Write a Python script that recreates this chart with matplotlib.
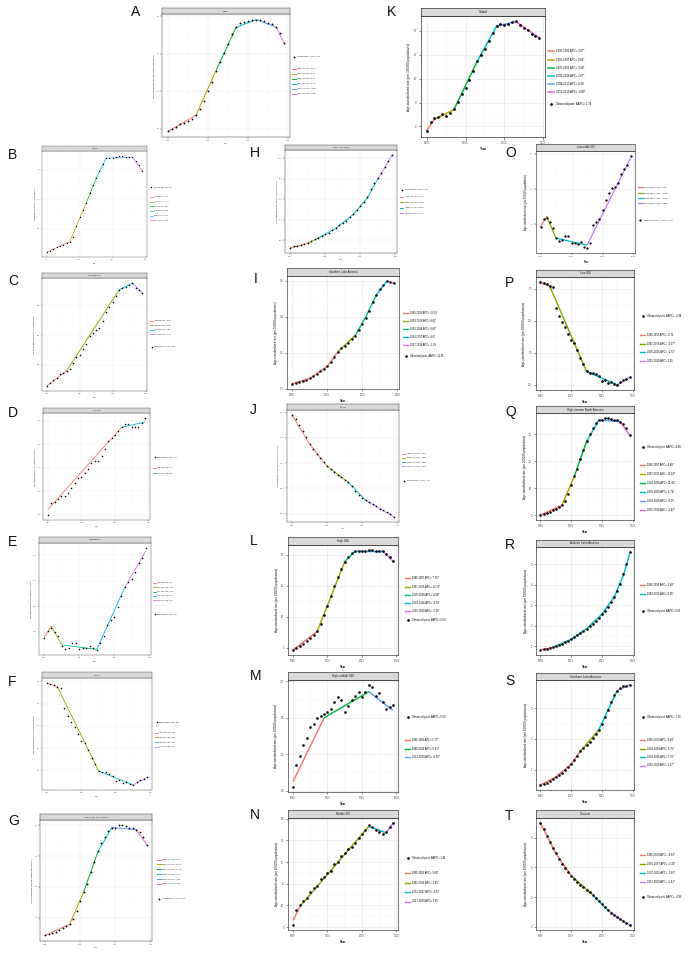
import matplotlib
matplotlib.use("Agg")
import matplotlib.pyplot as plt
from matplotlib.lines import Line2D

plt.rcParams['font.family'] = ['Liberation Sans', 'DejaVu Sans']

W, H, DPI = 700, 957, 100
fig = plt.figure(figsize=(W / DPI, H / DPI), dpi=DPI)

YEARS = list(range(1990, 2020))
XTICKS = [1990, 2000, 2010, 2020]
XMINOR = [1995, 2005, 2015]
YLABEL = "Age-standardized rate (per 100000 populations)"

PALETTES = {
    2: ["#F8766D", "#00BFC4"],
    3: ["#F8766D", "#00BA38", "#619CFF"],
    4: ["#F8766D", "#7CAE00", "#00BFC4", "#C77CFF"],
    5: ["#F8766D", "#A3A500", "#00BF7D", "#00B0F6", "#E76BF3"],
    6: ["#F8766D", "#B79F00", "#00BA38", "#00BFC4", "#619CFF", "#F564E3"],
}

# ---------------- data ----------------
A_TITLE = "Global"
A_OBS = [0.193, 0.199, 0.206, 0.212, 0.216, 0.221, 0.227, 0.236, 0.253, 0.275, 0.300, 0.326, 0.353, 0.379, 0.401,
         0.426, 0.452, 0.470, 0.483, 0.485, 0.486, 0.489, 0.491, 0.490, 0.486, 0.482, 0.479, 0.471, 0.454, 0.428]
A_FIT_YEARS = [1990, 1997, 2002, 2007, 2012, 2017, 2019]
A_FIT = [0.193, 0.236, 0.355, 0.470, 0.491, 0.471, 0.428]
A_JP = [1990, 1997, 2002, 2007, 2012, 2017, 2019]
A_LABELS = ["1990-1997 APC= 2.87*", "1997-2002 APC= 8.37*", "2002-2007 APC= 5.87*",
            "2007-2012 APC= 0.75*", "2012-2017 APC= -0.86*", "2017-2019 APC= -4.28*"]
A_AAPC = "Observed point, AAPC= 2.79"
A_YTICKS = [0.2, 0.3, 0.4, 0.5]
A_YTICKLABELS = ["0.2", "0.3", "0.4", "0.5"]

B_TITLE = "High SDI"
B_OBS = [0.30, 0.31, 0.325, 0.34, 0.35, 0.36, 0.375, 0.39, 0.43, 0.52, 0.60, 0.66, 0.72, 0.80, 0.87,
         0.93, 0.99, 1.05, 1.10, 1.10, 1.10, 1.11, 1.12, 1.12, 1.11, 1.11, 1.11, 1.08, 1.04, 0.99]
B_FIT_YEARS = [1990, 1997, 2002, 2005, 2008, 2016, 2019]
B_FIT = [0.30, 0.39, 0.72, 0.93, 1.10, 1.11, 0.99]
B_JP = [1990, 1997, 2002, 2005, 2008, 2016, 2019]
B_LABELS = ["1990-1997 APC= 4.17*", "1997-2002 APC= 12.71*", "2002-2005 APC= 8.89*",
            "2005-2008 APC= 5.85*", "2008-2016 APC= 0.09", "2016-2019 APC= -3.88*"]
B_AAPC = "Observed point, AAPC= 4.19"
B_YTICKS = [0.50, 0.75, 1.00]
B_YTICKLABELS = ["0.50", "0.75", "1.00"]

C_TITLE = "High-middle SDI"
C_OBS = [0.165, 0.169, 0.174, 0.178, 0.185, 0.186, 0.190, 0.193, 0.203, 0.213, 0.216, 0.226, 0.235, 0.249, 0.253,
         0.258, 0.262, 0.274, 0.289, 0.297, 0.305, 0.315, 0.326, 0.329, 0.330, 0.334, 0.337, 0.329, 0.325, 0.321]
C_FIT_YEARS = [1990, 1996, 2012, 2016, 2019]
C_FIT = [0.165, 0.190, 0.326, 0.337, 0.321]
C_JP = [1990, 1996, 2012, 2016, 2019]
C_LABELS = ["1990-1996 APC= 2.19*", "1996-2012 APC= 3.50*", "2012-2016 APC= 0.86", "2016-2019 APC= -1.77*"]
C_AAPC = "Observed point, AAPC= 2.34"
C_YTICKS = [0.20, 0.25, 0.30]
C_YTICKLABELS = ["0.20", "0.25", "0.30"]

D_TITLE = "Middle SDI"
D_OBS = [0.099, 0.124, 0.127, 0.134, 0.140, 0.140, 0.147, 0.157, 0.168, 0.179, 0.181, 0.188, 0.198, 0.210, 0.215,
         0.215, 0.225, 0.240, 0.256, 0.264, 0.270, 0.277, 0.286, 0.292, 0.292, 0.286, 0.286, 0.286, 0.296, 0.306]
D_FIT_YEARS = [1990, 2012, 2019]
D_FIT = [0.111, 0.286, 0.297]
D_JP = [1990, 2012, 2019]
D_LABELS = ["1990-2012 APC= 4.37*", "2012-2019 APC= 0.59"]
D_AAPC = "Observed point, AAPC= 3.46"
D_YTICKS = [0.10, 0.15, 0.20, 0.25, 0.30]
D_YTICKLABELS = ["0.10", "0.15", "0.20", "0.25", "0.30"]

E_TITLE = "Low-middle SDI"
E_OBS = [0.0588, 0.0602, 0.0608, 0.0600, 0.0591, 0.0572, 0.0566, 0.0568, 0.0578, 0.0578, 0.0566, 0.0567, 0.0568,
         0.0572, 0.0567, 0.0564, 0.0577, 0.0591, 0.0613, 0.0623, 0.0628, 0.0649, 0.0669, 0.0687, 0.0697, 0.0703,
         0.0717, 0.0735, 0.0745, 0.0764]
E_FIT_YEARS = [1990, 1992, 1995, 2005, 2013, 2019]
E_FIT = [0.0588, 0.0611, 0.0574, 0.0565, 0.0687, 0.0759]
E_JP = [1990, 1992, 1995, 2005, 2013, 2019]
E_LABELS = ["1990-1992 APC= 1.92", "1992-1995 APC= -2.10", "1995-2005 APC= -0.16",
            "2005-2013 APC= 2.49*", "2013-2019 APC= 1.67*"]
E_AAPC = "Observed point, AAPC= 0.90"
E_YTICKS = [0.060, 0.065, 0.070, 0.075]
E_YTICKLABELS = ["0.060", "0.065", "0.070", "0.075"]

F_TITLE = "Low SDI"
F_OBS = [0.296, 0.294, 0.292, 0.288, 0.285, 0.239, 0.222, 0.208, 0.197, 0.181, 0.166, 0.161, 0.146, 0.128, 0.113,
         0.098, 0.095, 0.095, 0.092, 0.086, 0.075, 0.079, 0.071, 0.073, 0.070, 0.067, 0.073, 0.079, 0.081, 0.085]
F_FIT_YEARS = [1990, 1993, 2005, 2015, 2019]
F_FIT = [0.296, 0.288, 0.098, 0.067, 0.084]
F_JP = [1990, 1993, 2005, 2015, 2019]
F_LABELS = ["1990-1993 APC= -0.88", "1993-2005 APC= -8.87*", "2005-2015 APC= -3.77*", "2015-2019 APC= 5.92"]
F_AAPC = "Observed point, AAPC= -4.99"
F_YTICKS = [0.10, 0.15, 0.20, 0.25, 0.30]
F_YTICKLABELS = ["0.10", "0.15", "0.20", "0.25", "0.30"]

G_TITLE = "High-income North America"
G_OBS = [0.426, 0.436, 0.448, 0.464, 0.480, 0.499, 0.515, 0.537, 0.584, 0.663, 0.758, 0.853, 0.932, 1.042, 1.143,
         1.247, 1.326, 1.389, 1.446, 1.478, 1.472, 1.500, 1.500, 1.491, 1.478, 1.472, 1.459, 1.437, 1.389, 1.311]
G_FIT_YEARS = [1990, 1997, 2001, 2005, 2009, 2016, 2019]
G_FIT = [0.426, 0.537, 0.853, 1.240, 1.480, 1.460, 1.311]
G_JP = [1990, 1997, 2001, 2005, 2009, 2016, 2019]
G_LABELS = ["1990-1997 APC= 3.40*", "1997-2001 APC= 12.53*", "2001-2005 APC= 10.18*",
            "2005-2009 APC= 4.37*", "2009-2016 APC= -0.23", "2016-2019 APC= -3.57*"]
G_AAPC = "Observed point, AAPC= 3.93"
G_YTICKS = [0.6, 0.9, 1.2, 1.5]
G_YTICKLABELS = ["0.6", "0.9", "1.2", "1.5"]

H_TITLE = "Andean Latin America"
H_OBS = [0.030, 0.035, 0.036, 0.038, 0.040, 0.043, 0.047, 0.052, 0.055, 0.060, 0.064, 0.068, 0.074, 0.080, 0.086,
         0.092, 0.098, 0.106, 0.115, 0.123, 0.133, 0.144, 0.156, 0.174, 0.190, 0.202, 0.215, 0.229, 0.243, 0.259]
H_FIT_YEARS = [1990, 1995, 1998, 2003, 2008, 2012, 2015, 2017, 2019]
H_FIT = [0.031, 0.042, 0.055, 0.079, 0.113, 0.153, 0.200, 0.228, 0.258]
H_JP = [1990, 1995, 1998, 2015, 2019]
H_LABELS = ["1990-1995 APC= 6.77*", "1995-1998 APC= 11.37*", "1998-2015 APC= 8.08*", "2015-2019 APC= 6.40*"]
H_AAPC = "Observed point, AAPC= 7.52"
H_YTICKS = [0.05, 0.10, 0.15, 0.20, 0.25]
H_YTICKLABELS = ["0.05", "0.10", "0.15", "0.20", "0.25"]

I_TITLE = "Southern Latin America"
I_OBS = [0.028, 0.033, 0.038, 0.044, 0.052, 0.060, 0.072, 0.085, 0.098, 0.112, 0.127, 0.148, 0.178, 0.205, 0.225,
         0.240, 0.257, 0.275, 0.296, 0.325, 0.360, 0.395, 0.435, 0.480, 0.522, 0.552, 0.578, 0.598, 0.594, 0.585]
I_FIT_YEARS = [1990, 1995, 2000, 2003, 2008, 2011, 2014, 2017, 2019]
I_FIT = [0.028, 0.058, 0.125, 0.205, 0.298, 0.400, 0.522, 0.598, 0.586]
I_JP = [1990, 2003, 2008, 2014, 2017, 2019]
I_LABELS = ["1990-2003 APC= 16.54*", "2003-2008 APC= 8.01*", "2008-2014 APC= 9.85*",
            "2014-2017 APC= 4.47", "2017-2019 APC= -1.09"]
I_AAPC = "Observed point, AAPC= 11.36"
I_YTICKS = [0.0, 0.2, 0.4, 0.6]
I_YTICKLABELS = ["0.0", "0.2", "0.4", "0.6"]

J_TITLE = "Oceania"
J_OBS = [0.1477, 0.1434, 0.1379, 0.1320, 0.1261, 0.1189, 0.1139, 0.1090, 0.1048, 0.1008, 0.0969, 0.0943, 0.0910,
         0.0884, 0.0861, 0.0834, 0.0811, 0.0769, 0.0723, 0.0687, 0.0654, 0.0631, 0.0611, 0.0592, 0.0572, 0.0549,
         0.0533, 0.0513, 0.0493, 0.0467]
J_FIT_YEARS = [1990, 1995, 2000, 2006, 2011, 2015, 2019]
J_FIT = [0.1477, 0.1189, 0.0969, 0.0811, 0.0631, 0.0549, 0.0467]
J_JP = [1990, 2000, 2006, 2011, 2019]
J_LABELS = ["1990-2000 APC= -4.17*", "2000-2006 APC= -2.66*", "2006-2011 APC= -4.88*", "2011-2019 APC= -3.47*"]
J_AAPC = "Observed point, AAPC= -3.94"
J_YTICKS = [0.050, 0.075, 0.100, 0.125, 0.150]
J_YTICKLABELS = ["0.050", "0.075", "0.100", "0.125", "0.150"]

K_TITLE = "Global"
K_OBS = [7.79, 8.17, 8.34, 8.41, 8.51, 8.44, 8.55, 8.72, 9.03, 9.34, 9.59, 9.93, 10.34, 10.73, 10.97,
         11.24, 11.59, 11.90, 12.21, 12.28, 12.23, 12.28, 12.37, 12.39, 12.25, 12.11, 12.04, 11.86, 11.79, 11.68]
K_FIT_YEARS = [1990, 1992, 1997, 2003, 2008, 2013, 2019]
K_FIT = [7.82, 8.30, 8.70, 10.72, 12.20, 12.38, 11.70]
K_JP = [1990, 1992, 1997, 2003, 2008, 2013, 2019]
K_LABELS = ["1990-1992 APC= 3.07*", "1992-1997 APC= 0.64*", "1997-2003 APC= 3.58*",
            "2003-2008 APC= 2.67*", "2008-2013 APC= 0.28", "2013-2019 APC= -0.83*"]
K_AAPC = "Observed point, AAPC= 1.39"
K_YTICKS = [8, 9, 10, 11, 12]
K_YTICKLABELS = ["8", "9", "10", "11", "12"]

L_TITLE = "High SDI"
L_OBS = [4.6, 4.9, 5.2, 5.6, 6.0, 6.5, 7.0, 7.6, 8.8, 10.2, 11.8, 13.4, 15.0, 16.5, 17.8,
         18.9, 19.7, 20.3, 20.6, 20.6, 20.6, 20.7, 20.8, 20.8, 20.7, 20.7, 20.6, 20.2, 19.6, 19.0]
L_FIT_YEARS = [1990, 1997, 2005, 2008, 2016, 2019]
L_FIT = [4.6, 7.6, 18.9, 20.6, 20.6, 19.0]
L_JP = [1990, 1997, 2005, 2008, 2016, 2019]
L_LABELS = ["1990-1997 APC= 7.70*", "1997-2005 APC= 12.13*", "2005-2008 APC= 4.58*",
            "2008-2016 APC= -0.09", "2016-2019 APC= -2.56*"]
L_AAPC = "Observed point, AAPC= 5.04"
L_YTICKS = [5, 10, 15, 20]
L_YTICKLABELS = ["5", "10", "15", "20"]

M_TITLE = "High-middle SDI"
M_OBS = [5.55, 5.85, 5.97, 6.12, 6.22, 6.38, 6.42, 6.50, 6.52, 6.55, 6.58, 6.62, 6.72, 6.78, 6.75,
         6.58, 6.66, 6.75, 6.80, 6.86, 6.78, 6.85, 6.95, 6.93, 6.80, 6.84, 6.72, 6.62, 6.65, 6.68]
M_FIT_YEARS = [1990, 1999, 2012, 2019]
M_FIT = [5.62, 6.50, 6.86, 6.60]
M_JP = [1990, 1999, 2012, 2019]
M_LABELS = ["1990-1999 APC= 1.77*", "1999-2012 APC= 0.41*", "2012-2019 APC= -0.63*"]
M_AAPC = "Observed point, AAPC= 0.59"
M_YTICKS = [5.5, 6.0, 6.5, 7.0]
M_YTICKLABELS = ["5.5", "6.0", "6.5", "7.0"]

N_TITLE = "Middle SDI"
N_OBS = [9.1, 9.8, 10.0, 10.2, 10.35, 10.6, 10.8, 10.9, 11.2, 11.3, 11.5, 11.6, 11.9, 12.0, 12.3,
         12.4, 12.6, 12.7, 12.9, 13.1, 13.3, 13.5, 13.7, 13.6, 13.5, 13.4, 13.3, 13.4, 13.6, 13.8]
N_FIT_YEARS = [1990, 1992, 2012, 2017, 2019]
N_FIT = [9.3, 9.95, 13.65, 13.35, 13.8]
N_JP = [1990, 1992, 2012, 2017, 2019]
N_LABELS = ["1990-1992 APC= 3.66*", "1992-2012 APC= 1.69*", "2012-2017 APC= -0.57", "2017-2019 APC= 1.63"]
N_AAPC = "Observed point, AAPC= 1.41"
N_YTICKS = [9, 10, 11, 12, 13, 14]
N_YTICKLABELS = ["9", "10", "11", "12", "13", "14"]

O_TITLE = "Low-middle SDI"
O_OBS = [7.93, 8.14, 8.18, 8.06, 7.91, 7.61, 7.52, 7.56, 7.68, 7.68, 7.47, 7.47, 7.45, 7.50, 7.36,
         7.32, 7.48, 7.98, 8.06, 8.14, 8.41, 8.68, 8.89, 9.02, 9.05, 9.18, 9.43, 9.57, 9.68, 9.95]
O_FIT_YEARS = [1990, 1992, 1995, 2005, 2019]
O_FIT = [7.93, 8.23, 7.61, 7.41, 9.88]
O_JP = [1990, 1992, 1995, 2005, 2019]
O_LABELS = ["1990-1992 APC= 1.75", "1992-1995 APC= -2.60", "1995-2005 APC= -0.41*", "2005-2019 APC= 2.06*"]
O_AAPC = "Observed point, AAPC= 0.75"
O_YTICKS = [8, 9, 10]
O_YTICKLABELS = ["8", "9", "10"]

P_TITLE = "Low SDI"
P_OBS = [3.600, 3.584, 3.568, 3.542, 3.520, 3.201, 3.079, 2.983, 2.909, 2.797, 2.691, 2.654, 2.547, 2.425, 2.319,
         2.213, 2.191, 2.191, 2.175, 2.133, 2.053, 2.080, 2.027, 2.042, 2.016, 2.000, 2.042, 2.080, 2.096, 2.122]
P_FIT_YEARS = [1990, 1993, 2005, 2015, 2019]
P_FIT = [3.60, 3.54, 2.21, 2.00, 2.12]
P_JP = [1990, 1993, 2005, 2015, 2019]
P_LABELS = ["1990-1993 APC= -0.71", "1993-2005 APC= -3.07*", "2005-2015 APC= -1.71*", "2015-2019 APC= 1.31"]
P_AAPC = "Observed point, AAPC= -1.98"
P_YTICKS = [2.0, 2.5, 3.0, 3.5]
P_YTICKLABELS = ["2.0", "2.5", "3.0", "3.5"]

Q_TITLE = "High-income North America"
Q_OBS = [5.00, 5.16, 5.37, 5.64, 5.90, 6.22, 6.48, 6.85, 7.65, 8.97, 10.56, 12.15, 13.47, 15.32, 17.02,
         18.76, 20.09, 21.15, 22.10, 22.63, 22.52, 23.00, 23.00, 22.84, 22.63, 22.52, 22.31, 21.94, 21.15, 19.82]
Q_FIT_YEARS = [1990, 1997, 2001, 2005, 2009, 2016, 2019]
Q_FIT = [5.00, 6.85, 12.15, 18.6, 22.6, 22.3, 19.82]
Q_JP = [1990, 1997, 2001, 2005, 2009, 2016, 2019]
Q_LABELS = ["1990-1997 APC= 4.80*", "1997-2001 APC= 15.53*", "2001-2005 APC= 11.44*",
            "2005-2009 APC= 4.74*", "2009-2016 APC= -0.07", "2016-2019 APC= -3.83*"]
Q_AAPC = "Observed point, AAPC= 4.88"
Q_YTICKS = [5, 10, 15, 20]
Q_YTICKLABELS = ["5", "10", "15", "20"]

R_TITLE = "Andean Latin America"
R_OBS = [0.80, 0.84, 0.87, 0.90, 0.93, 0.98, 1.04, 1.11, 1.18, 1.26, 1.34, 1.43, 1.52, 1.62, 1.73,
         1.84, 1.96, 2.09, 2.23, 2.38, 2.55, 2.73, 2.93, 3.15, 3.40, 3.70, 4.05, 4.50, 5.00, 5.60]
R_FIT_YEARS = [1990, 1994, 2000, 2005, 2010, 2014, 2017, 2019]
R_FIT = [0.80, 0.93, 1.33, 1.84, 2.55, 3.40, 4.45, 5.50]
R_JP = [1990, 1994, 2019]
R_LABELS = ["1990-1994 APC= 3.48*", "1994-2019 APC= 6.95*"]
R_AAPC = "Observed point, AAPC= 6.61"
R_YTICKS = [1, 2, 3, 4, 5]
R_YTICKLABELS = ["1", "2", "3", "4", "5"]

S_TITLE = "Southern Latin America"
S_OBS = [0.50, 0.54, 0.58, 0.63, 0.69, 0.75, 0.82, 0.90, 0.99, 1.08, 1.18, 1.30, 1.45, 1.62, 1.72,
         1.80, 1.90, 2.02, 2.15, 2.30, 2.50, 2.72, 2.96, 3.20, 3.42, 3.58, 3.66, 3.72, 3.74, 3.76]
S_FIT_YEARS = [1990, 1995, 2000, 2003, 2009, 2012, 2015, 2019]
S_FIT = [0.50, 0.76, 1.18, 1.60, 2.30, 2.95, 3.58, 3.76]
S_JP = [1990, 2003, 2009, 2015, 2019]
S_LABELS = ["1990-2003 APC= 9.49*", "2003-2009 APC= 5.75*", "2009-2015 APC= 7.70*", "2015-2019 APC= 1.27*"]
S_AAPC = "Observed point, AAPC= 7.13"
S_YTICKS = [1, 2, 3]
S_YTICKLABELS = ["1", "2", "3"]

T_TITLE = "Oceania"
T_OBS = [9.0, 8.6, 8.15, 7.75, 7.35, 6.95, 6.6, 6.25, 5.95, 5.7, 5.45, 5.25, 5.05, 4.85, 4.7,
         4.5, 4.35, 4.15, 3.95, 3.72, 3.5, 3.3, 3.1, 2.95, 2.8, 2.65, 2.5, 2.38, 2.25, 2.12]
T_FIT_YEARS = [1990, 1995, 2000, 2007, 2012, 2016, 2019]
T_FIT = [9.0, 6.95, 5.45, 4.15, 3.1, 2.5, 2.12]
T_JP = [1990, 2000, 2007, 2012, 2019]
T_LABELS = ["1990-2000 APC= -4.82*", "2000-2007 APC= -3.33*", "2007-2012 APC= -5.69*", "2012-2019 APC= -5.41*"]
T_AAPC = "Observed point, AAPC= -4.96"
T_YTICKS = [2, 4, 6, 8]
T_YTICKLABELS = ["2", "4", "6", "8"]

# ---------------- layout (pixels) ----------------
LAYOUT = {
    "A": dict(box=(162, 8, 14, 290, 137), letter=(131, 12), leg=(292, 57, 69, 5.6), s=1.3),
    "B": dict(box=(42, 146, 151, 147, 257), letter=(8, 155), leg=(150, 187, 197, 4.6), s=0.95),
    "C": dict(box=(42, 273, 278, 147, 391), letter=(8, 281), leg=(150, 347, 321, 5.0), s=1.15),
    "D": dict(box=(43, 408, 413, 150, 520), letter=(8, 413), leg=(153, 457, 468, 6.0), s=1.1),
    "E": dict(box=(39, 537, 543, 151, 655), letter=(8, 542), leg=(153, 614, 583, 4.75), s=1.1),
    "F": dict(box=(42, 672, 678, 152, 790), letter=(8, 682), leg=(155, 722, 733, 5.0), s=1.1),
    "G": dict(box=(40, 814, 820, 152, 941), letter=(8, 821), leg=(157, 899, 860, 5.4), s=1.3),
    "H": dict(box=(285, 145, 150, 397, 253), letter=(250, 153), leg=(400, 190, 197, 6.0), s=1.25),
    "I": dict(box=(287, 268, 276, 399, 389), letter=(254, 279), leg=(403, 355, 312, 6.5), s=1.8),
    "J": dict(box=(287, 404, 410, 399, 522), letter=(250, 410), leg=(402, 481, 454, 4.7), s=1.25),
    "K": dict(box=(421, 8, 16, 545, 137), letter=(387, 12), leg=(548, 104, 51, 7.0), s=2.0),
    "L": dict(box=(288, 537, 545, 398, 655), letter=(250, 541), leg=(405, 620, 578, 6.8), s=1.9),
    "M": dict(box=(288, 672, 680, 398, 792), letter=(250, 676), leg=(405, 717, 740, 7.0), s=1.9),
    "N": dict(box=(288, 810, 818, 398, 930), letter=(250, 815), leg=(405, 858, 873, 8.0), s=1.9),
    "O": dict(box=(536, 144, 151, 635, 253), letter=(505, 153), leg=(638, 221, 188, 6.0), s=1.65),
    "P": dict(box=(536, 270, 277, 634, 390), letter=(505, 283), leg=(640, 316, 335, 7.0), s=1.9),
    "Q": dict(box=(536, 406, 413, 634, 520), letter=(505, 412), leg=(640, 447, 465, 7.5), s=1.9),
    "R": dict(box=(536, 540, 547, 634, 655), letter=(505, 545), leg=(640, 611, 585, 7.0), s=1.9),
    "S": dict(box=(536, 673, 680, 634, 790), letter=(505, 681), leg=(640, 717, 740, 7.0), s=1.9),
    "T": dict(box=(536, 810, 818, 634, 930), letter=(505, 816), leg=(640, 897, 855, 7.5), s=1.9),
}

G_ = globals()


def draw(key):
    title = G_[key + "_TITLE"]
    obs = G_[key + "_OBS"]
    fy = G_[key + "_FIT_YEARS"]
    fv = G_[key + "_FIT"]
    jp = G_[key + "_JP"]
    labels = G_[key + "_LABELS"]
    aapc = G_[key + "_AAPC"]
    yt = G_[key + "_YTICKS"]
    ytl = G_[key + "_YTICKLABELS"]
    lay = LAYOUT[key]
    l, st, sb, r, b = lay["box"]
    s = lay["s"]
    fs_px = s * DPI / 72.0
    big = s > 1.6

    ax = fig.add_axes([l / W, 1 - b / H, (r - l) / W, (b - sb) / H])
    sax = fig.add_axes([l / W, 1 - sb / H, (r - l) / W, (sb - st) / H])

    pal = PALETTES[len(jp) - 1]
    for i in range(len(jp) - 1):
        xs = [y for y in fy if jp[i] <= y <= jp[i + 1]]
        vs = [v for y, v in zip(fy, fv) if jp[i] <= y <= jp[i + 1]]
        ax.plot(xs, vs, color=pal[i], lw=0.55 * s, solid_capstyle="butt", zorder=2)
    ax.plot(YEARS, obs, "o", color="black", ms=1.0 * s, mew=0, zorder=3)

    ax.margins(x=0.05, y=0.05)
    lim = ax.get_ylim()
    ax.set_xticks(XTICKS)
    ax.set_xticks(XMINOR, minor=True)
    ax.set_xticklabels([str(x) for x in XTICKS])
    ax.set_yticks(yt)
    ax.set_yticklabels(ytl)
    ymin = [(yt[i] + yt[i + 1]) / 2 for i in range(len(yt) - 1)]
    ax.set_yticks(ymin, minor=True)
    ax.set_ylim(lim)
    ax.set_xlim(1988.55, 2020.45)

    ax.grid(which="major", color="#EBEBEB", lw=0.25 * s)
    ax.grid(which="minor", color="#F4F4F4", lw=0.15 * s)
    ax.set_axisbelow(True)
    ax.tick_params(which="major", labelsize=s, length=0.9 * s, width=0.2 * s, pad=0.6 * s,
                   color="#333333", labelcolor="#4D4D4D")
    ax.tick_params(which="minor", length=0)
    for sp in ax.spines.values():
        sp.set_color("#333333")
        sp.set_linewidth(0.25 * s)
    ax.set_xlabel("Year", fontsize=1.15 * s, labelpad=0.8 * s, fontweight="bold" if big else "normal")
    ax.set_ylabel(YLABEL, fontsize=1.15 * s, labelpad=0.8 * s, color="#111111")

    sax.set_facecolor("#D9D9D9")
    sax.set_xticks([])
    sax.set_yticks([])
    for sp in sax.spines.values():
        sp.set_color("#333333")
        sp.set_linewidth(0.25 * s)
    sax.text(0.5, 0.5, title, ha="center", va="center", fontsize=1.1 * s, color="#1A1A1A",
             transform=sax.transAxes)

    lx, oy, sy, spc = lay["leg"]
    seg_handles = [Line2D([], [], color=c, lw=0.55 * s) for c in pal]
    ls = max(spc / fs_px - 1.0, 0.1)
    leg1 = ax.legend(seg_handles, labels, loc="upper left",
                     bbox_to_anchor=(lx / W, 1 - (sy - 0.6 * fs_px) / H), bbox_transform=fig.transFigure,
                     frameon=False, fontsize=s, labelspacing=ls, handlelength=2.0, handletextpad=0.8,
                     borderpad=0, borderaxespad=0)
    ax.add_artist(leg1)
    obs_handle = Line2D([], [], marker="o", color="black", ls="none", ms=1.0 * s, mew=0)
    ax.legend([obs_handle], [aapc], loc="upper left",
              bbox_to_anchor=(lx / W, 1 - (oy - 0.6 * fs_px) / H), bbox_transform=fig.transFigure,
              frameon=False, fontsize=s, handlelength=2.0, handletextpad=0.8, borderpad=0, borderaxespad=0)

    lxp, lyp = lay["letter"]
    fig.text(lxp / W, 1 - lyp / H, key, fontsize=10, ha="left", va="center", color="#111111")


for k in "ABCDEFGHIJKLMNOPQRST":
    draw(k)

fig.savefig("out.png", dpi=DPI, facecolor="white")
